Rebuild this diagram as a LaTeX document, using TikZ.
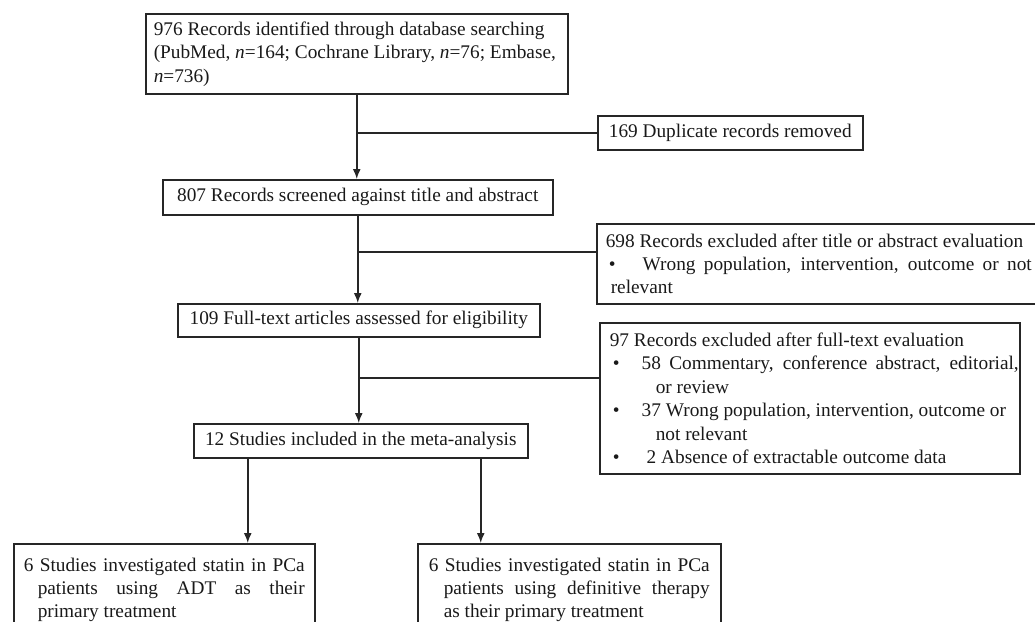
\documentclass[tikz,border=0pt]{standalone}
\usepackage{fontspec}
\setmainfont{Liberation Serif}
\usetikzlibrary{arrows.meta}

\newcommand{\bul}[1][29pt]{\hspace*{3pt}\makebox[#1][l]{\textbullet}}
\newcommand{\spread}[2]{\makebox[#1][s]{\spaceskip=0pt\relax #2}}

\tikzset{
	box/.style={draw=black!85, line width=1.5pt, anchor=north west, inner ysep=0pt,
		font=\fontsize{19.3}{23.4}\selectfont, text=black!90},
	onebox/.style={box, inner xsep=0pt},
	listbox/.style={box, align=justify, inner ysep=8pt},
	arr/.style={draw=black!85, line width=1.5pt, -{Latex[length=10pt,width=8pt]}},
	link/.style={draw=black!85, line width=1.5pt}
}

\begin{document}
\begin{tikzpicture}[x=1pt,y=-1pt]
		\useasboundingbox (0,0) rectangle (1035,621);
		
		\node[listbox, text width=406pt, inner xsep=8pt, minimum height=80pt] (found) at (145,13)
			{976 Records identified through database searching\\
			\mbox{(PubMed, \textit{n}=164; Cochrane Library, \textit{n}=76; Embase,}\\
			\textit{n}=736)};
		\node[onebox, minimum width=265pt, minimum height=34pt] (dupl) at (597,115)
			{169 Duplicate records removed};
		\node[onebox, minimum width=390pt, minimum height=35pt] (screen) at (162,179)
			{807 Records screened against title and abstract};
		\node[listbox, text width=430pt, inner xsep=9pt, minimum height=80pt] (excl1) at (596,223)
			{698 Records excluded after title or abstract evaluation\\
			\bul[34pt]\spread{389pt}{Wrong population, intervention, outcome or not}\\
			\hspace*{5pt}relevant};
		\node[onebox, minimum width=362pt, minimum height=33pt] (full) at (177,303)
			{109 Full-text articles assessed for eligibility};
		\node[listbox, text width=400pt, inner xsep=10pt, minimum height=151pt] (excl2) at (599,322)
			{97 Records excluded after full-text evaluation\\
			\bul\spread{377pt}{58 Commentary, conference abstract, editorial,}\\
			\hspace*{46pt}or review\\
			\bul 37 Wrong population, intervention, outcome or\\
			\hspace*{46pt}not relevant\\
			\bul\hspace*{5pt}2 Absence of extractable outcome data};
		\node[onebox, minimum width=334pt, minimum height=34pt] (incl) at (193,423)
			{12 Studies included in the meta-analysis};
		\node[listbox, text width=281pt, inner xsep=10pt, inner ysep=14pt] (adt) at (13,543)
			{\spread{281pt}{6 Studies investigated statin in PCa}\\
			\hspace*{14pt}\spread{267pt}{patients using ADT as their}\\
			\hspace*{14pt}primary treatment};
		\node[listbox, text width=281pt, inner xsep=11pt, inner ysep=14pt] (defin) at (417,543)
			{\spread{281pt}{6 Studies investigated statin in PCa}\\
			\hspace*{15pt}\spread{266pt}{patients using definitive therapy}\\
			\hspace*{15pt}as their primary treatment};
		
		\coordinate (j1) at ([yshift=-29pt]excl1.north west);
		\coordinate (j2) at ([yshift=-56pt]excl2.north west);
		
		\draw[arr] (found.south) -- (found.south |- screen.north);
		\draw[link] (found.south |- dupl.west) -- (dupl.west);
		\draw[arr] (screen.south) -- (screen.south |- full.north);
		\draw[link] (j1 -| screen.south) -- (j1);
		\draw[arr] (full.south) -- (full.south |- incl.north);
		\draw[link] (j2 -| full.south) -- (j2);
		\draw[arr] ([xshift=-113pt]incl.south) -- ([xshift=-113pt]incl.south |- adt.north);
		\draw[arr] ([xshift=120pt]incl.south) -- ([xshift=120pt]incl.south |- defin.north);
		
	\end{tikzpicture}
\end{document}
